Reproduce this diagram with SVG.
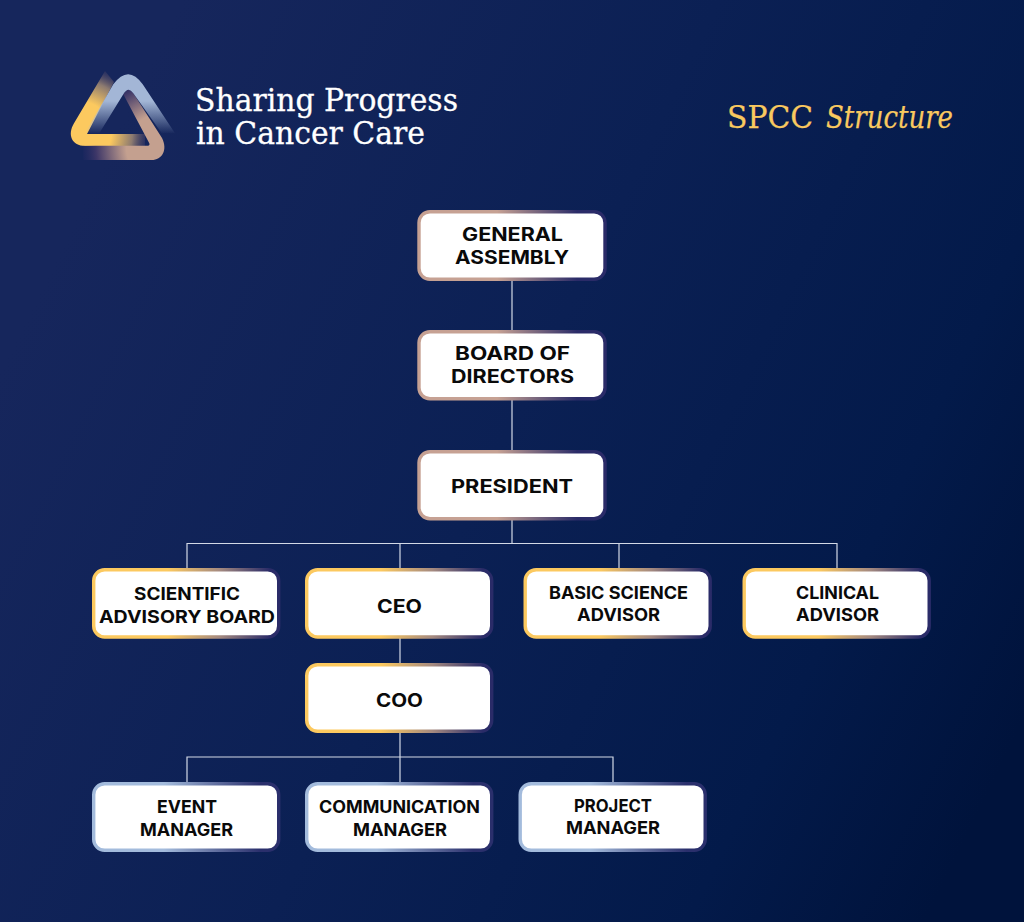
<svg xmlns="http://www.w3.org/2000/svg" width="1024" height="922" viewBox="0 0 1024 922">
<style>
.box{fill:#fff;stroke-width:3.4}
.p{stroke:url(#gp)}.y{stroke:url(#gy)}.b{stroke:url(#gb)}
.t{font-family:"Inter","Liberation Sans",Arial,sans-serif;font-weight:700;fill:#0a0a0a;font-size:18.5px;text-anchor:start}
.s{font-size:17.5px}
.logo{font-family:"DejaVu Serif",serif;fill:#fff;stroke:#fff;stroke-width:.3;font-size:32.5px}
.title{font-family:"DejaVu Serif",serif;fill:#f9c95f;stroke:#f9c95f;stroke-width:.25;font-size:32.5px}
.c{fill:none;stroke:#d3d9e6;stroke-width:1.2}
</style>
<defs>
<linearGradient id="bg" gradientUnits="userSpaceOnUse" x1="60" y1="250" x2="1024" y2="720">
<stop offset="0" stop-color="#16265c"/><stop offset=".45" stop-color="#0b2054"/><stop offset=".8" stop-color="#031a4a"/><stop offset="1" stop-color="#00133c"/>
</linearGradient>
<linearGradient id="gp"><stop offset=".42" stop-color="#c6a193"/><stop offset=".85" stop-color="#2a2b68"/></linearGradient>
<linearGradient id="gy"><stop offset=".4" stop-color="#fcc95f"/><stop offset=".68" stop-color="#a58a80"/><stop offset=".95" stop-color="#2a2b68"/></linearGradient>
<linearGradient id="gb"><stop offset=".38" stop-color="#a3bbdc"/><stop offset=".9" stop-color="#2a2f6c"/></linearGradient>
<radialGradient id="ly" gradientUnits="userSpaceOnUse" cx="80" cy="133" r="70"><stop offset=".45" stop-color="#fcc95f"/><stop offset=".75" stop-color="#8c7a70"/><stop offset="1" stop-color="#3a3566" stop-opacity=".2"/></radialGradient>
<radialGradient id="lt" gradientUnits="userSpaceOnUse" cx="160" cy="148" r="80"><stop offset=".42" stop-color="#c4a08f"/><stop offset=".8" stop-color="#3e3768"/><stop offset="1" stop-color="#1a2560" stop-opacity=".3"/></radialGradient>
<linearGradient id="lb" gradientUnits="userSpaceOnUse" x1="0" y1="101" x2="0" y2="134"><stop offset="0" stop-color="#a3b6d6"/><stop offset="1" stop-color="#a3b6d6" stop-opacity="0"/></linearGradient>
</defs>
<rect id="background" width="1024" height="922" fill="url(#bg)"/>
<g id="logo">
<path fill="url(#ly)" d="M105,71 L74,123.300 C67,135 72,146 85,146 L145,146 L145,134 L87,134 L114,82 Z"/>
<path fill="url(#lt)" d="M123.300,94.300 L149.300,143.300 Q150,145.700 148,145.700 L83.300,145.700 L83.300,160 L151.700,160 C162,160 168,150 162,138 L133.300,93.300 Q128.300,85.700 123.300,94.300 Z"/>
<path fill="url(#lb)" d="M175,133.300 L142.700,84.300 Q128.300,64 113.300,84.300 L85,133.300 L99.300,133.300 L123.300,94.300 Q128.300,85.700 133.300,93.300 L161.700,133.300 Z"/>
<text class="logo" x="195" y="111" textLength="263" lengthAdjust="spacingAndGlyphs">Sharing Progress</text>
<text class="logo" x="196" y="144" textLength="229" lengthAdjust="spacingAndGlyphs">in Cancer Care</text>
</g>
<g id="title">
<text class="title" x="727" y="128" textLength="86" lengthAdjust="spacingAndGlyphs">SPCC</text>
<text class="title" x="826" y="128" font-style="italic" textLength="127" lengthAdjust="spacingAndGlyphs">Structure</text>
</g>
<g id="connectors">
<path class="c" d="M512,280V331M512,400V451M512,519V543.500M187,568V543.500H837V568M400,543.500V568M619,543.500V568M400,638V664M400,732V783M187,782V757H613V782"/>
</g>
<g id="general-assembly"><rect class="box p" x="419" y="211.700" width="186" height="67.600" rx="11"/>
<text class="t" x="462" y="241" textLength="101" lengthAdjust="spacingAndGlyphs">GENERAL</text><text class="t" x="455" y="263.500" textLength="114" lengthAdjust="spacingAndGlyphs">ASSEMBLY</text></g>
<g id="board-of-directors"><rect class="box p" x="419" y="331.700" width="186" height="67" rx="11"/>
<text class="t" x="455" y="360" textLength="115" lengthAdjust="spacingAndGlyphs">BOARD OF</text><text class="t" x="451" y="382.500" textLength="123" lengthAdjust="spacingAndGlyphs">DIRECTORS</text></g>
<g id="president"><rect class="box p" x="419" y="451.700" width="186" height="67" rx="11"/>
<text class="t" x="451" y="493" textLength="122" lengthAdjust="spacingAndGlyphs">PRESIDENT</text></g>
<g id="scientific-advisory-board"><rect class="box y" x="93.700" y="569.700" width="185" height="67.300" rx="11"/>
<text class="t s" x="134" y="600" textLength="106" lengthAdjust="spacingAndGlyphs">SCIENTIFIC</text><text class="t s" x="99" y="622.500" textLength="176" lengthAdjust="spacingAndGlyphs">ADVISORY BOARD</text></g>
<g id="ceo"><rect class="box y" x="306.700" y="569.700" width="185" height="67.300" rx="11"/>
<text class="t" x="377" y="612.500" textLength="45" lengthAdjust="spacingAndGlyphs">CEO</text></g>
<g id="basic-science-advisor"><rect class="box y" x="525.200" y="569.700" width="185" height="67.300" rx="11"/>
<text class="t s" x="549" y="599" textLength="139" lengthAdjust="spacingAndGlyphs">BASIC SCIENCE</text><text class="t s" x="577" y="621" textLength="83" lengthAdjust="spacingAndGlyphs">ADVISOR</text></g>
<g id="clinical-advisor"><rect class="box y" x="744.200" y="569.700" width="185" height="67.300" rx="11"/>
<text class="t s" x="796" y="599" textLength="83" lengthAdjust="spacingAndGlyphs">CLINICAL</text><text class="t s" x="796" y="621" textLength="83" lengthAdjust="spacingAndGlyphs">ADVISOR</text></g>
<g id="coo"><rect class="box y" x="306.700" y="664.700" width="185" height="66.600" rx="11"/>
<text class="t" x="376" y="707" textLength="47" lengthAdjust="spacingAndGlyphs">COO</text></g>
<g id="event-manager"><rect class="box b" x="93.700" y="783.700" width="185" height="66.600" rx="11"/>
<text class="t s" x="157" y="813" textLength="60" lengthAdjust="spacingAndGlyphs">EVENT</text><text class="t s" x="140" y="835.500" textLength="93" lengthAdjust="spacingAndGlyphs">MANAGER</text></g>
<g id="communication-manager"><rect class="box b" x="306.700" y="783.700" width="185" height="66.600" rx="11"/>
<text class="t s" x="319" y="813" textLength="161" lengthAdjust="spacingAndGlyphs">COMMUNICATION</text><text class="t s" x="353" y="835.500" textLength="94" lengthAdjust="spacingAndGlyphs">MANAGER</text></g>
<g id="project-manager"><rect class="box b" x="520.200" y="783.700" width="185" height="66.600" rx="11"/>
<text class="t s" x="574" y="812" textLength="78" lengthAdjust="spacingAndGlyphs">PROJECT</text><text class="t s" x="566" y="834" textLength="94" lengthAdjust="spacingAndGlyphs">MANAGER</text></g>
</svg>
